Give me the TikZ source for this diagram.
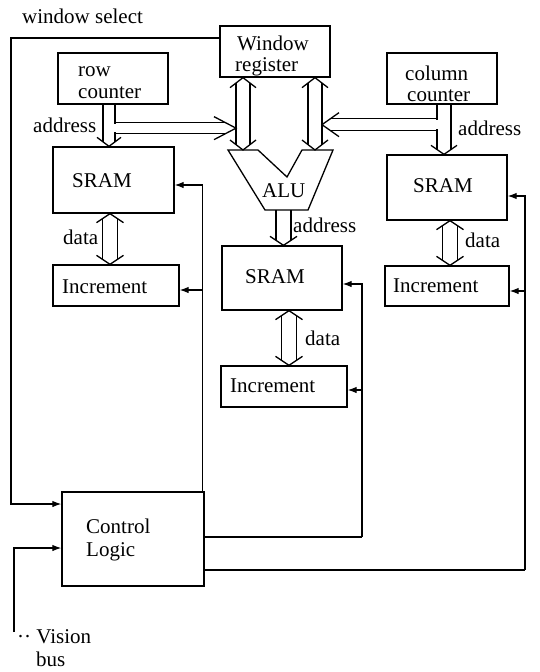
\documentclass[tikz,border=0pt]{standalone}
\usepackage{fontspec}
\setmainfont{Liberation Serif}
\usetikzlibrary{calc,arrows.meta}
% hollow vertical arrow: #1 top, #2 bottom, #3 half width, #4 head length, #5 head at top, #6 head at bottom
\newcommand{\hollowV}[6]{%
  \pgfmathsetmacro\hvHW{#3+6}%
  \pgfmathsetmacro\hvIn{#4*#3/\hvHW}%
  \ifnum#5=1 \let\hvA\hvIn \else \def\hvA{0}\fi
  \ifnum#6=1 \let\hvB\hvIn \else \def\hvB{0}\fi
  \draw[hol] ($(#1)+(-#3,\hvA)$) -- ($(#2)+(-#3,-\hvB)$);
  \draw[hol] ($(#1)+(#3,\hvA)$) -- ($(#2)+(#3,-\hvB)$);
  \ifnum#5=1 \draw[hol] ($(#1)+(-\hvHW,#4)$) -- (#1) -- ($(#1)+(\hvHW,#4)$);\fi
  \ifnum#6=1 \draw[hol] ($(#2)+(-\hvHW,-#4)$) -- (#2) -- ($(#2)+(\hvHW,-#4)$);\fi
}
% hollow horizontal arrow: #1 left, #2 right, #3 half width, #4 head length, #5 head at left, #6 head at right
\newcommand{\hollowH}[6]{%
  \pgfmathsetmacro\hvHW{#3+6}%
  \pgfmathsetmacro\hvIn{#4*#3/\hvHW}%
  \ifnum#5=1 \let\hvA\hvIn \else \def\hvA{0}\fi
  \ifnum#6=1 \let\hvB\hvIn \else \def\hvB{0}\fi
  \draw[hol] ($(#1)+(\hvA,-#3)$) -- ($(#2)+(-\hvB,-#3)$);
  \draw[hol] ($(#1)+(\hvA,#3)$) -- ($(#2)+(-\hvB,#3)$);
  \ifnum#5=1 \draw[hol] ($(#1)+(#4,-\hvHW)$) -- (#1) -- ($(#1)+(#4,\hvHW)$);\fi
  \ifnum#6=1 \draw[hol] ($(#2)+(-#4,-\hvHW)$) -- (#2) -- ($(#2)+(-#4,\hvHW)$);\fi
}
\begin{document}
\begin{tikzpicture}[x=1pt,y=-1pt,
  every node/.style={font=\fontsize{21}{24}\selectfont, inner sep=0pt},
  box/.style={draw, line width=1.3pt},
  txt/.style={anchor=base west},
  hol/.style={line width=1.3pt, line join=miter},
  ctl/.style={line width=1.2pt, -{Latex[length=9pt,width=6.5pt]}}]
\useasboundingbox (0,0) rectangle (539,672);

% boxes
\node[box, minimum width=110pt, minimum height=51pt] (winreg) at (275,51.5) {};
\node[box, minimum width=110pt, minimum height=51pt] (rowc) at (113,78.5) {};
\node[box, minimum width=110pt, minimum height=51pt] (colc) at (442,78.5) {};
\node[box, minimum width=121pt, minimum height=66pt] (sramL) at (113.5,180) {};
\node[box, minimum width=126pt, minimum height=41pt] (incL) at (116,285.5) {};
\node[box, minimum width=120pt, minimum height=64pt] (sramM) at (282,278) {};
\node[box, minimum width=126pt, minimum height=41pt] (incM) at (284,386.5) {};
\node[box, minimum width=120pt, minimum height=65pt] (sramR) at (447,187.5) {};
\node[box, minimum width=124pt, minimum height=40pt] (incR) at (447,286) {};
\node[box, minimum width=142pt, minimum height=94pt] (ctrl) at (133,539) {};

% ALU
\coordinate (alu1) at (228,150);
\coordinate (alu2) at (258,150);
\coordinate (alu3) at (287,177);
\coordinate (alu4) at (302,150);
\coordinate (alu5) at (333,150);
\coordinate (alu6) at (308,210);
\coordinate (alu7) at (265,210);
\draw[box, line join=miter] (alu1) -- (alu2) -- (alu3) -- (alu4) -- (alu5) -- (alu6) -- (alu7) -- cycle;
\coordinate (aluL) at (243,150);
\coordinate (aluR) at (315,150);
\coordinate (aluB) at (283.5,210);

% texts
\node[txt] (t-ws) at (22,23) {window select};
\node[txt] (t-win1) at (237,50) {Window};
\node[txt] (t-win2) at (235,71) {register};
\node[txt] (t-row1) at (78,76) {row};
\node[txt] (t-row2) at (78,98) {counter};
\node[txt] (t-col1) at (405,80) {column};
\node[txt] (t-col2) at (407,101) {counter};
\node[txt] (t-sramL) at (72,187) {SRAM};
\node[txt] (t-incL) at (62,293) {Increment};
\node[txt] (t-sramM) at (245,283) {SRAM};
\node[txt] (t-incM) at (230,392) {Increment};
\node[txt] (t-sramR) at (413,192) {SRAM};
\node[txt] (t-incR) at (393,292) {Increment};
\node[txt] (t-alu) at (262,197) {ALU};
\node[txt] (t-addrL) at (33,132) {address};
\node[txt] (t-addrR) at (458,135) {address};
\node[txt] (t-addrM) at (293,232) {address};
\node[txt] (t-dataL) at (63,244) {data};
\node[txt] (t-dataM) at (305,345) {data};
\node[txt] (t-dataR) at (465,247) {data};
\node[txt] (t-ctl1) at (86,533) {Control};
\node[txt] (t-ctl2) at (86,556) {Logic};
\node[txt] (t-vis) at (17,643) {··\ Vision};
\node[txt] (t-bus) at (36,666) {bus};

% hollow arrows
\path (rowc.south) ++(-4,0) coordinate (ra1);
\coordinate (ra2) at (sramL.north -| ra1);
\hollowV{ra1}{ra2}{6}{9}{0}{1}
\coordinate (rh1) at ($(ra1)+(6,23.5)$);
\coordinate (rh2) at ($(aluL |- rh1)+(-7,0)$);
\hollowH{rh1}{rh2}{5.5}{22}{0}{1}
\draw[white, line width=2pt] ($(rh1)+(0,-4.3)$) -- ($(rh1)+(0,4.3)$);

\path (colc.south) ++(2,0) coordinate (ca1);
\coordinate (ca2) at (sramR.north -| ca1);
\hollowV{ca1}{ca2}{7}{9}{0}{1}
\coordinate (ch1) at ($(ca1)+(-7,20)$);
\coordinate (ch2) at ($(aluR |- ch1)+(7,0)$);
\hollowH{ch2}{ch1}{6}{17}{1}{0}
\draw[white, line width=2pt] ($(ch1)+(0,-4.8)$) -- ($(ch1)+(0,4.8)$);

\coordinate (wl) at (winreg.south -| aluL);
\coordinate (wr) at (winreg.south -| aluR);
\hollowV{wl}{aluL}{7}{10}{1}{1}
\hollowV{wr}{aluR}{7}{10}{1}{1}

\coordinate (ab2) at (sramM.north -| aluB);
\hollowV{aluB}{ab2}{7.5}{9}{0}{1}

\path (sramL.south) ++(-3.5,0) coordinate (dl1);
\coordinate (dl2) at (incL.north -| dl1);
\hollowV{dl1}{dl2}{7.5}{9}{1}{1}
\path (sramM.south) ++(7,0) coordinate (dm1);
\coordinate (dm2) at (incM.north -| dm1);
\hollowV{dm1}{dm2}{7.5}{9}{1}{1}
\path (sramR.south) ++(3,0) coordinate (dr1);
\coordinate (dr2) at (incR.north -| dr1);
\hollowV{dr1}{dr2}{7.5}{9}{1}{1}

% control lines
\path (ctrl.north east) ++(-2,0) coordinate (fbL);
\draw[ctl] (fbL) |- ($(sramL.east)+(0,5)$);
\draw[ctl] (fbL) |- ($(incL.east)+(0,4.5)$);

\coordinate (busM) at (362,537);
\draw[line width=1.2pt] (ctrl.east |- busM) -- (busM);
\draw[ctl] (busM) |- ($(sramM.east)+(0,6)$);
\draw[ctl] (busM) |- ($(incM.east)+(0,3.5)$);

\coordinate (busR) at (525,570);
\draw[line width=1.2pt] (ctrl.east |- busR) -- (busR);
\draw[ctl] (busR) |- ($(sramR.east)+(0,8.5)$);
\draw[ctl] (busR) |- ($(incR.east)+(0,5)$);

\coordinate (ws) at (11,38);
\draw[ctl] (winreg.west |- ws) -- (ws) |- ($(ctrl.west)+(0,-35)$);
\coordinate (vb) at (14,632);
\draw[ctl] (vb) |- ($(ctrl.west)+(0,9)$);
\end{tikzpicture}
\end{document}
